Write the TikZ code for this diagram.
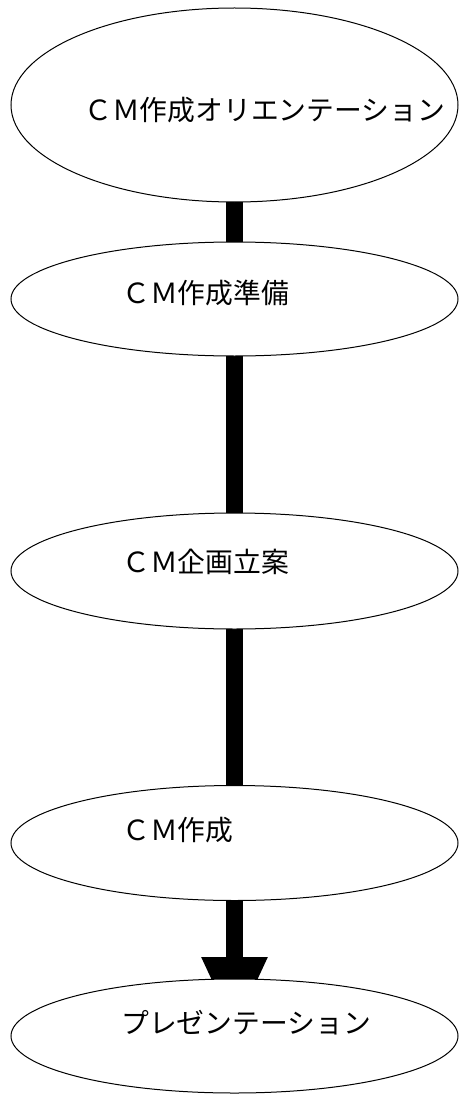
\documentclass[tikz,border=0pt]{standalone}
\usepackage{fontspec}
\newfontfamily\jpfont{Noto Sans CJK JP}
\usetikzlibrary{shapes.geometric,arrows.meta,backgrounds}
\begin{document}
\begin{tikzpicture}[x=1pt,y=-1pt,
  stage/.style={ellipse,draw=black,line width=1pt,fill=white,inner sep=0pt,minimum width=447pt},
  lbl/.style={anchor=west,inner sep=0pt,font=\jpfont\fontsize{27.8pt}{30pt}\selectfont},
  link/.style={line width=17.5pt,draw=black}]
\useasboundingbox (0,0) rectangle (459,1094);
\node[stage,minimum height=194pt] (e1) at (234.5,105) {};
\node[stage,minimum height=114pt] (e2) at (234.5,299) {};
\node[stage,minimum height=116pt] (e3) at (234.5,571) {};
\node[stage,minimum height=115pt] (e4) at (234.5,843) {};
\node[stage,minimum height=114pt] (e5) at (234.5,1036) {};
\node[lbl] (t1) at (84,110) {ＣＭ作成オリエンテーション};
\node[lbl] (t2) at (122,293) {ＣＭ作成準備};
\node[lbl] (t3) at (122,562) {ＣＭ企画立案};
\node[lbl] (t4) at (122,830) {ＣＭ作成};
\node[lbl] (t5) at (121,1023) {プレゼンテーション};
\begin{scope}[on background layer]
\draw[link] (e1.center) -- (e2.center);
\draw[link] (e2.center) -- (e3.center);
\draw[link] (e3.center) -- (e4.center);
\draw[link,-{Triangle[width=61pt,length=74pt]},shorten >=5pt] (e4.center) -- (e5.center);
\end{scope}
\end{tikzpicture}
\end{document}
